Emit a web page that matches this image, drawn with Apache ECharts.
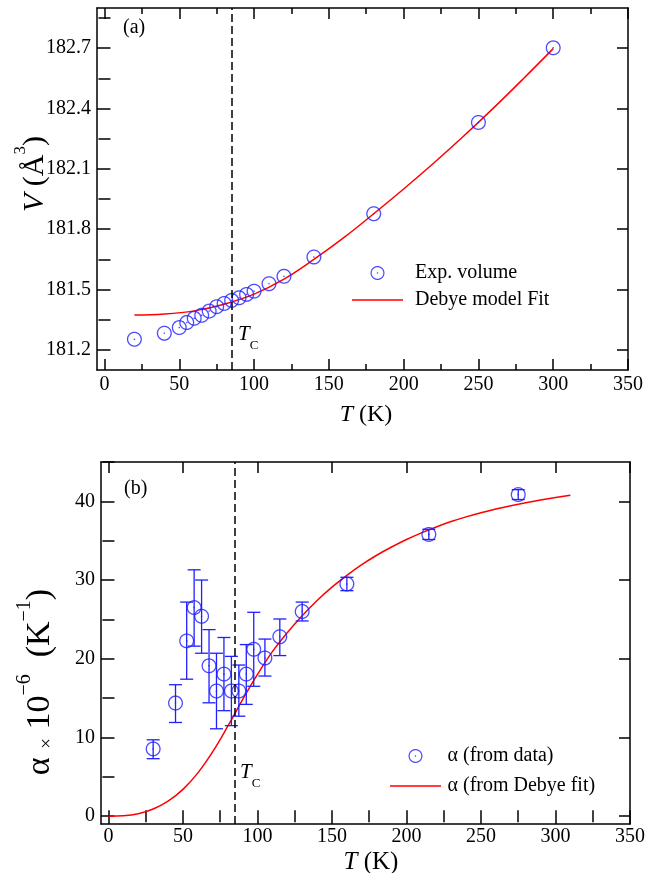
<!DOCTYPE html>
<html><head><meta charset="utf-8">
<script src="https://cdn.jsdelivr.net/npm/echarts@6/dist/echarts.min.js"></script>
<style>html,body{margin:0;padding:0;background:#fff}#c{width:648px;height:873px}</style>
</head><body><div id="c"></div>
<script>
// ---------- data: panel (a) ----------
const volT = [20,40,50,55,60,65,70,75,80,85,90,95,100,110,120,140,180,250,300];
const volV = [181.253,181.283,181.311,181.336,181.357,181.372,181.393,181.415,181.431,181.446,181.459,181.476,181.492,181.529,181.566,181.662,181.877,182.331,182.702];
const fitVT = [20,40,60,80,100,120,140,160,180,200,220,240,260,280,300];
const fitV = [181.373,181.378,181.394,181.427,181.477,181.552,181.650,181.758,181.877,182.000,182.128,182.262,182.402,182.548,182.698];
// ---------- data: panel (b) ----------
const alphaT = [30,45,52.5,57.5,62.5,67.5,72.5,77.5,82.5,87.5,92.5,97.5,105,115,130,160,215,275];
const alphaVal = [8.54,14.37,22.27,26.5,25.4,19.1,15.9,18.05,15.9,15.9,18.05,21.2,20.1,22.8,26.0,29.5,35.8,40.86];
const alphaLo = [7.3,11.9,17.4,21.6,20.7,14.4,11.1,13.4,11.5,12.7,14.2,16.5,17.8,20.4,24.8,28.65,35.15,40.23];
const alphaHi = [9.7,16.7,27.2,31.3,30.0,23.7,20.7,22.7,20.3,19.2,21.8,25.9,22.5,25.05,27.2,30.35,36.45,41.49];
const fitAT = [0,10,20,30,40,50,60,70,80,90,100,110,120,130,140,150,160,170,180,190,200,210,220,230,240,250,260,270,280,290,300,310];
const fitA = [0,0.05,0.3,0.9,1.9,3.4,5.5,8.2,11.4,14.8,18.0,20.9,23.3,25.45,27.4,29.1,30.6,31.95,33.15,34.2,35.15,36.0,36.75,37.43,38.03,38.56,39.03,39.45,39.83,40.17,40.48,40.76];
const TC = 85;
// ---------- axes ticks ----------
const xMajor = [0,50,100,150,200,250,300,350];
const xAll = [0,25,50,75,100,125,150,175,200,225,250,275,300,325,350];
const xRangeA = [-5,350], xRangeB = [-5,350];
const yMajorA = [181.2,181.5,181.8,182.1,182.4,182.7];
const yAllA = [181.2,181.35,181.5,181.65,181.8,181.95,182.1,182.25,182.4,182.55,182.7,182.85];
const yRangeA = [181.1,182.9];
const yMajorB = [0,10,20,30,40];
const yAllB = [0,5,10,15,20,25,30,35,40,45];
const yRangeB = [-1,45];

const F = '"Liberation Serif","Times New Roman",serif';
const BLUE = '#1f1fff', RED = '#ff0000';

function ringPath(){
  const n=48, R=7.5, r=6.2, d=0.8; let s='';
  for(let i=0;i<=n;i++){const a=2*Math.PI*i/n; s+=(i?'L':'M')+(R*Math.cos(a)).toFixed(3)+','+(R*Math.sin(a)).toFixed(3);} s+='Z';
  for(let i=0;i<=n;i++){const a=-2*Math.PI*i/n; s+=(i?'L':'M')+(r*Math.cos(a)).toFixed(3)+','+(r*Math.sin(a)).toFixed(3);} s+='Z';
  for(let i=0;i<=16;i++){const a=2*Math.PI*i/16; s+=(i?'L':'M')+(d*Math.cos(a)).toFixed(3)+','+(d*Math.sin(a)).toFixed(3);} s+='Z';
  return 'path://'+s;
}
const RING = ringPath();
// legend line icon: thin band with near-invisible corner anchors to keep the full box
const LINEICON = 'path://M0,0L0.01,0L0.01,0.01Z M0,6.25L51,6.25L51,7.75L0,7.75Z M51,14L50.99,14L50.99,13.99Z';

const line = {color:'#000', width:1.5};
function xAxes(g, range){
  const base = {gridIndex:g, type:'value', min:range[0], max:range[1], splitLine:{show:false}};
  return [
    Object.assign({}, base, {position:'bottom', axisLine:{show:true,onZero:false,lineStyle:line},
      axisTick:{show:true,inside:true,length:11,customValues:xMajor,lineStyle:line},
      axisLabel:{show:true,customValues:xMajor,fontFamily:F,fontSize:20,color:'#000',margin:g?3:5}}),
    Object.assign({}, base, {position:'bottom', axisLine:{show:false},
      axisTick:{show:true,inside:true,length:6,customValues:xAll,lineStyle:line}, axisLabel:{show:false}}),
    Object.assign({}, base, {position:'top', axisLine:{show:true,onZero:false,lineStyle:line},
      axisTick:{show:true,inside:true,length:11,customValues:xMajor,lineStyle:line}, axisLabel:{show:false}}),
    Object.assign({}, base, {position:'top', axisLine:{show:false},
      axisTick:{show:true,inside:true,length:6,customValues:xAll,lineStyle:line}, axisLabel:{show:false}})
  ];
}
function yAxes(g, range, major, all, fmt){
  const base = {gridIndex:g, type:'value', min:range[0], max:range[1], splitLine:{show:false}};
  return [
    Object.assign({}, base, {position:'left', axisLine:{show:true,onZero:false,lineStyle:line},
      axisTick:{show:true,inside:true,length:11,customValues:major,lineStyle:line},
      axisLabel:{show:true,customValues:major,fontFamily:F,fontSize:20,color:'#000',margin:6,formatter:fmt}}),
    Object.assign({}, base, {position:'left', axisLine:{show:false},
      axisTick:{show:true,inside:true,length:6,customValues:all,lineStyle:line}, axisLabel:{show:false}}),
    Object.assign({}, base, {position:'right', axisLine:{show:true,onZero:false,lineStyle:line},
      axisTick:{show:true,inside:true,length:11,customValues:major,lineStyle:line}, axisLabel:{show:false}}),
    Object.assign({}, base, {position:'right', axisLine:{show:false},
      axisTick:{show:true,inside:true,length:6,customValues:all,lineStyle:line}, axisLabel:{show:false}})
  ];
}

const zip = (a,b)=>a.map((v,i)=>[v,b[i]]);
const tcLine = {silent:true, symbol:['none','none'], label:{show:false},
  lineStyle:{color:'#000', width:1.5, type:[8,4]}, data:[{xAxis:TC}]};

const chart = echarts.init(document.getElementById('c'), null, {renderer:'canvas'});
chart.setOption({
  animation:false,
  backgroundColor:'#fff',
  grid:[
    {left:97, top:8, width:531, height:362},
    {left:101, top:462, width:532, height:362}
  ],
  xAxis:[].concat(xAxes(0,xRangeA), xAxes(1,xRangeB)),
  yAxis:[].concat(yAxes(0,yRangeA,yMajorA,yAllA,v=>v.toFixed(1)), yAxes(1,yRangeB,yMajorB,yAllB,v=>String(v))),
  legend:[
    {left:352, top:263, orient:'vertical', padding:0, itemGap:7, itemWidth:51, itemHeight:14,
     textStyle:{fontFamily:F, fontSize:20, color:'#000', lineHeight:20, padding:[0,0,0,7]},
     selectedMode:false, data:[{name:'Exp. volume', icon:RING}, {name:'Debye model Fit', icon:LINEICON}]},
    {left:390, top:746, orient:'vertical', padding:0, itemGap:10, itemWidth:52, itemHeight:14,
     textStyle:{fontFamily:F, fontSize:20, color:'#000', lineHeight:20, padding:[0,0,0,1]},
     selectedMode:false, data:[{name:'α (from data)', icon:RING}, {name:'α (from Debye fit)', icon:LINEICON}]}
  ],
  series:[
    {name:'Debye model Fit', type:'line', xAxisIndex:0, yAxisIndex:0, data:zip(fitVT,fitV), smooth:0.4,
     symbol:'none', lineStyle:{color:RED, width:1.5}, itemStyle:{color:RED}, markLine:tcLine, z:2},
    {name:'Exp. volume', type:'scatter', xAxisIndex:0, yAxisIndex:0, data:zip(volT,volV),
     symbol:RING, symbolSize:15, symbolKeepAspect:true, itemStyle:{color:BLUE}, z:3},
    {name:'α (from Debye fit)', type:'line', xAxisIndex:4, yAxisIndex:4, data:zip(fitAT,fitA), smooth:0.4,
     symbol:'none', lineStyle:{color:RED, width:1.5}, itemStyle:{color:RED}, markLine:tcLine, z:2},
    {name:'errbars', type:'custom', xAxisIndex:4, yAxisIndex:4,
     data:alphaT.map((t,i)=>[t,alphaLo[i],alphaHi[i]]),
     renderItem:function(params, api){
       const lo = api.coord([api.value(0), api.value(1)]);
       const hi = api.coord([api.value(0), api.value(2)]);
       const hw = 6.5;
       const st = {stroke:BLUE, lineWidth:1.3, fill:null};
       return {type:'group', children:[
         {type:'line', shape:{x1:lo[0],y1:lo[1],x2:hi[0],y2:hi[1]}, style:st},
         {type:'line', shape:{x1:lo[0]-hw,y1:lo[1],x2:lo[0]+hw,y2:lo[1]}, style:st},
         {type:'line', shape:{x1:hi[0]-hw,y1:hi[1],x2:hi[0]+hw,y2:hi[1]}, style:st}
       ]};
     }, z:3},
    {name:'α (from data)', type:'scatter', xAxisIndex:4, yAxisIndex:4, data:zip(alphaT,alphaVal),
     symbol:RING, symbolSize:15, symbolKeepAspect:true, itemStyle:{color:BLUE}, z:4}
  ],
  graphic:[
    {type:'text', x:123, y:28, style:{text:'(a)', font:'20px '+F, fill:'#000', align:'left', verticalAlign:'middle'}},
    {type:'text', x:124, y:489, style:{text:'(b)', font:'20px '+F, fill:'#000', align:'left', verticalAlign:'middle'}},
    {type:'text', x:238, y:338, style:{text:'{t|T}{c|C}', align:'left', verticalAlign:'middle', fill:'#000',
      rich:{t:{fontFamily:F, fontStyle:'italic', fontSize:21, lineHeight:28, verticalAlign:'top'},
            c:{fontFamily:F, fontSize:13, lineHeight:14, verticalAlign:'bottom'}}}},
    {type:'text', x:240, y:776, style:{text:'{t|T}{c|C}', align:'left', verticalAlign:'middle', fill:'#000',
      rich:{t:{fontFamily:F, fontStyle:'italic', fontSize:21, lineHeight:28, verticalAlign:'top'},
            c:{fontFamily:F, fontSize:13, lineHeight:14, verticalAlign:'bottom'}}}},
    {type:'text', x:366, y:415, style:{text:'{i|T} {r|(K)}', align:'center', verticalAlign:'middle', fill:'#000', font:'24px '+F,
      rich:{i:{fontFamily:F, fontStyle:'italic', fontSize:24}, r:{fontFamily:F, fontSize:24}}}},
    {type:'text', x:371, y:862, style:{text:'{i|T} {r|(K)}', align:'center', verticalAlign:'middle', fill:'#000', font:'25px '+F,
      rich:{i:{fontFamily:F, fontStyle:'italic', fontSize:25}, r:{fontFamily:F, fontSize:25}}}},
    {type:'text', x:31, y:174, rotation:Math.PI/2, style:{text:'{i|V} {r|(Å}{s|3}{r|)}', align:'center', verticalAlign:'middle', fill:'#000', font:'30px '+F,
      rich:{i:{fontFamily:F, fontStyle:'italic', fontSize:30, lineHeight:38, verticalAlign:'bottom'},
            r:{fontFamily:F, fontSize:30, lineHeight:38, verticalAlign:'bottom'},
            s:{fontFamily:F, fontSize:17, lineHeight:19, verticalAlign:'top'}}}},
    {type:'text', x:36, y:682, rotation:Math.PI/2, style:{text:'{r|α} {x|×} {r|10}{s|−6}{p|  }{r|(K}{s|−1}{r|)}', align:'center', verticalAlign:'middle', fill:'#000', font:'34px '+F,
      rich:{r:{fontFamily:F, fontSize:34, lineHeight:42, verticalAlign:'bottom'},
            p:{fontFamily:F, fontSize:34, lineHeight:42, verticalAlign:'bottom'},
            x:{fontFamily:F, fontSize:19, lineHeight:36, verticalAlign:'bottom'},
            s:{fontFamily:F, fontSize:20, lineHeight:21, verticalAlign:'top'}}}}
  ]
});
</script></body></html>
